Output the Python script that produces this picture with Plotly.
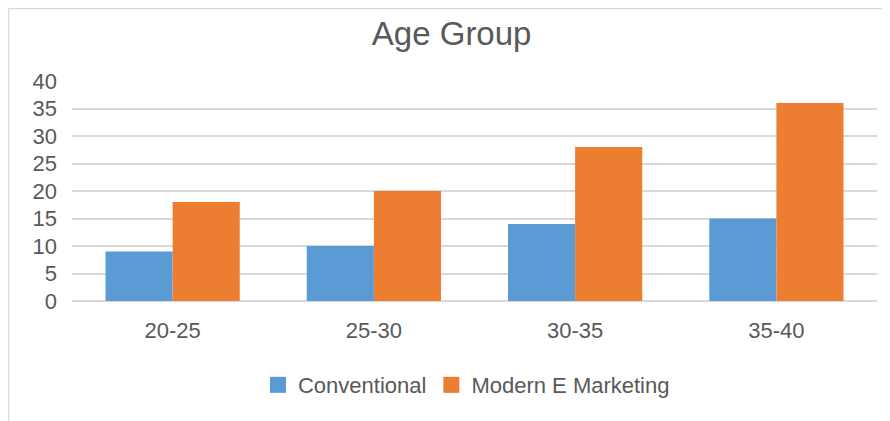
import plotly.graph_objects as go

categories = ["20-25", "25-30", "30-35", "35-40"]
conventional = [9, 10, 14, 15]
modern = [18, 20, 28, 36]
y_ticks = [0, 5, 10, 15, 20, 25, 30, 35, 40]

FONT = "Liberation Sans"
GRAY = "#595959"
BLUE = "#5B9BD5"
ORANGE = "#ED7D31"

fig = go.Figure()
fig.add_trace(go.Bar(x=categories, y=conventional, name="Conventional",
                     marker=dict(color=BLUE, line=dict(width=0)), showlegend=False))
fig.add_trace(go.Bar(x=categories, y=modern, name="Modern E Marketing",
                     marker=dict(color=ORANGE, line=dict(width=0)), showlegend=False))
# legend entries with larger square swatches
for nm, col in [("Conventional", BLUE), ("Modern E Marketing", ORANGE)]:
    fig.add_trace(go.Scatter(x=[None], y=[None], mode="markers", name=nm,
                             marker=dict(symbol="square", size=18, color=col),
                             showlegend=True))

fig.update_layout(
    width=882, height=413,
    margin=dict(l=64, r=13, t=73, b=120),
    paper_bgcolor="white", plot_bgcolor="white",
    barmode="group", bargap=0.333, bargroupgap=0,
    font=dict(family=FONT, color=GRAY, size=22),
    title=dict(text="Age Group", x=0.503, xanchor="center", y=0.939, yanchor="middle",
               font=dict(family=FONT, size=33, color=GRAY)),
    showlegend=True,
    legend=dict(orientation="h", x=0.49, xanchor="center", y=-0.382, yanchor="middle",
                font=dict(family=FONT, size=22, color=GRAY), itemwidth=30,
                itemsizing="trace", traceorder="normal"),
    xaxis=dict(showgrid=False, showline=False, ticks="", ticklabelstandoff=14,
               tickfont=dict(family=FONT, size=22, color=GRAY)),
    yaxis=dict(range=[0, 40], tickvals=y_ticks, showgrid=True, gridcolor="#D9D9D9",
               gridwidth=1.5, zeroline=True, zerolinecolor="#D9D9D9", zerolinewidth=1.5,
               showline=False, ticks="", ticklabelstandoff=14,
               tickfont=dict(family=FONT, size=22, color=GRAY)),
    shapes=[
        dict(type="line", xref="paper", yref="paper", x0=-0.0789, x1=-0.0789,
             y0=-0.6, y1=1.3295, line=dict(color="#D9D9D9", width=1.5)),
        dict(type="line", xref="paper", yref="paper", x0=-0.0789, x1=1.1,
             y0=1.3295, y1=1.3295, line=dict(color="#D9D9D9", width=1.5)),
    ],
)

fig.write_html("out.html")
